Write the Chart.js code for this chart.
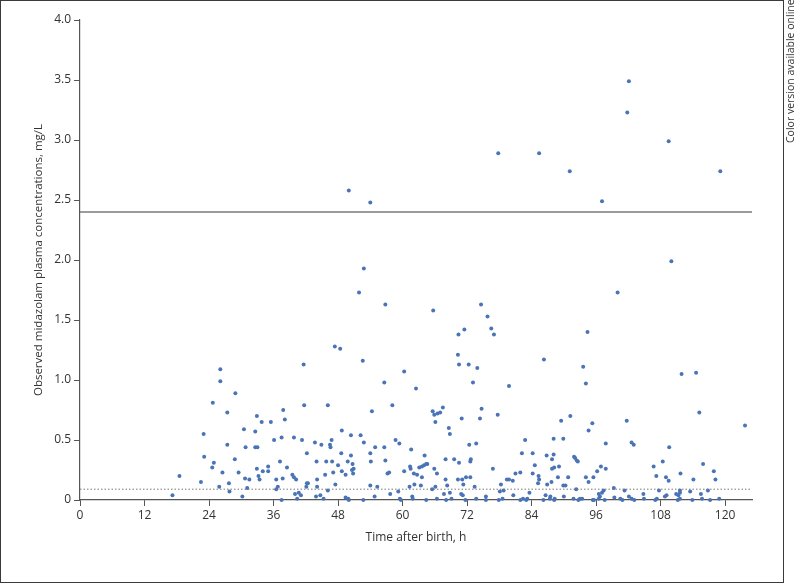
<!DOCTYPE html>
<html>
<head>
<meta charset="utf-8">
<script src="https://cdn.jsdelivr.net/npm/chart.js@4"></script>
<style>
  html, body { margin: 0; padding: 0; background: #fff; }
  #wrap { position: relative; width: 796px; height: 583px; overflow: hidden; }
  #frame { position: absolute; left: 0; top: 0; width: 784px; height: 583px; box-sizing: border-box; border: 1.5px solid #3a3a3a; pointer-events: none; }
  #note { position: absolute; left: 784px; top: 143px; width: 139px; height: 12px; transform-origin: 0 0; transform: rotate(-90deg);
          text-align: right; font: 10.5px "Open Sans", sans-serif; line-height: 12px; color: #333; white-space: nowrap; }
</style>
</head>
<body>
<div id="wrap">
  <canvas id="chart" width="796" height="583"></canvas>
  <div id="frame"></div>
  <div id="note">Color version available online</div>
</div>
<script>
// observed samples: time after birth (h) and midazolam concentration (mg/L), same order
const timeHours = [
  50.0, 54.0, 52.8, 51.9, 56.8, 65.7, 70.4, 102.1, 101.8, 109.5,
  77.8, 85.4, 91.1, 119.1, 97.1, 110.0, 100.0, 74.6, 75.8, 71.5,
  76.5, 77.0, 94.4,
  47.4, 48.4, 26.1, 26.1, 41.6, 28.9, 24.7, 41.7, 46.1, 27.4,
  32.9, 33.8, 35.5, 37.8, 38.1, 23.0, 30.5, 32.6, 36.1, 37.5,
  39.8, 41.3, 43.7, 44.9, 46.5, 46.8, 46.6, 48.7, 50.4, 48.6,
  27.4, 30.8, 32.6, 33.0, 23.1, 28.8, 42.2, 37.2, 44.0, 45.8,
  46.9, 49.8, 24.6, 24.9, 32.9, 35.0, 38.5, 48.0, 50.7, 18.5,
  26.5, 29.5, 33.2, 34.0, 35.0, 30.7, 31.5, 33.4, 36.5, 37.7,
  39.5, 39.8, 40.2, 42.2, 42.4, 45.6, 47.1, 48.7, 49.4, 50.9,
  50.8, 44.1, 27.7, 22.5, 25.9, 27.8, 31.1, 36.5, 36.8, 42.1,
  44.1, 47.5, 46.1, 17.2, 30.2, 40.0, 40.7, 41.1, 40.4, 43.9,
  44.7, 45.3, 37.5, 49.4, 50.0, 50.4, 50.6,
  70.3, 70.5, 72.3, 73.9, 73.1, 52.6, 60.3, 56.6, 62.5, 79.8,
  54.3, 58.1, 65.6, 65.9, 66.5, 67.0, 67.5, 66.1, 74.7, 71.0,
  74.4, 77.7, 68.6, 68.8, 52.2, 52.8, 58.7, 59.4, 54.9, 56.6,
  54.0, 61.6, 64.1, 72.4, 73.7, 82.8, 82.2, 84.2, 54.1, 56.8,
  68.0, 69.6, 70.5, 72.7, 72.6, 61.4, 61.5, 63.1, 63.6, 64.0,
  64.4, 64.6, 57.2, 57.5, 60.3, 62.1, 62.7, 63.6, 66.4, 65.9,
  76.8, 81.0, 81.9, 84.6, 84.2, 85.3, 85.4, 85.2, 68.0, 70.3,
  71.1, 71.8, 72.6, 68.3, 71.3, 73.4, 78.3, 79.4, 79.8, 80.5,
  54.0, 55.3, 61.3, 62.2, 63.4, 59.2, 57.7, 54.8, 61.8, 65.5,
  66.1, 67.7, 68.8, 70.9, 71.2, 75.5, 78.1, 78.8, 80.6, 83.6,
  49.9, 52.7, 59.5, 59.7, 61.9, 64.4, 66.4, 68.1, 69.1, 71.7,
  73.7, 75.5, 77.9, 78.6, 81.9, 82.4, 83.0, 83.2,
  86.3, 93.6, 94.1, 111.9, 114.6, 115.2, 89.5, 91.2, 95.3, 94.6,
  101.7, 88.1, 89.9, 97.8, 102.6, 103.0, 109.6, 86.8, 88.1, 87.8,
  91.9, 92.1, 92.4, 92.6, 88.2, 87.8, 89.1, 96.9, 96.2, 97.8,
  106.7, 108.4, 115.9, 117.9, 107.2, 109.0, 109.5, 111.7, 114.1, 118.2,
  88.9, 90.8, 94.1, 95.5, 94.6, 86.9, 87.7, 89.9, 90.3, 92.3,
  97.4, 97.1, 99.3, 96.5, 96.7, 101.3, 102.1, 104.8, 107.7, 108.8,
  109.1, 110.9, 111.3, 111.6, 111.6, 115.5, 116.8, 86.6, 87.5, 88.3,
  90.0, 93.4, 99.4, 113.5, 123.7,
  86.2, 87.4, 88.2, 91.8, 92.7, 93.0, 95.4, 95.6, 96.5, 97.6,
  100.5, 100.9, 102.6, 103.1, 104.9, 107.0, 107.3, 111.2, 111.6, 113.9,
  115.7, 117.2, 118.9
];
const concentration = [
  2.58, 2.48, 1.93, 1.73, 1.63, 1.58, 1.38, 3.49, 3.23, 2.99,
  2.89, 2.89, 2.74, 2.74, 2.49, 1.99, 1.73, 1.63, 1.53, 1.42,
  1.43, 1.38, 1.40,
  1.28, 1.26, 1.09, 0.99, 1.13, 0.89, 0.81, 0.79, 0.79, 0.73,
  0.70, 0.65, 0.65, 0.75, 0.67, 0.55, 0.59, 0.57, 0.50, 0.52,
  0.52, 0.50, 0.48, 0.46, 0.46, 0.50, 0.44, 0.58, 0.54, 0.39,
  0.46, 0.44, 0.44, 0.44, 0.36, 0.34, 0.39, 0.32, 0.32, 0.32,
  0.32, 0.32, 0.27, 0.31, 0.26, 0.28, 0.27, 0.29, 0.30, 0.20,
  0.23, 0.23, 0.20, 0.24, 0.24, 0.18, 0.17, 0.17, 0.17, 0.18,
  0.21, 0.19, 0.17, 0.14, 0.14, 0.21, 0.23, 0.24, 0.21, 0.26,
  0.22, 0.17, 0.14, 0.15, 0.11, 0.07, 0.10, 0.09, 0.11, 0.11,
  0.11, 0.13, 0.08, 0.04, 0.03, 0.05, 0.06, 0.04, 0.01, 0.03,
  0.04, 0.01, 0.00, 0.02, 0.00, 0.37, 0.25,
  1.21, 1.13, 1.13, 1.10, 0.98, 1.16, 1.07, 0.98, 0.93, 0.95,
  0.74, 0.79, 0.74, 0.71, 0.72, 0.73, 0.77, 0.65, 0.76, 0.68,
  0.68, 0.71, 0.60, 0.55, 0.54, 0.48, 0.50, 0.47, 0.44, 0.44,
  0.39, 0.42, 0.37, 0.46, 0.47, 0.50, 0.39, 0.39, 0.32, 0.33,
  0.34, 0.34, 0.31, 0.34, 0.32, 0.28, 0.26, 0.27, 0.28, 0.29,
  0.30, 0.30, 0.22, 0.23, 0.24, 0.22, 0.21, 0.19, 0.22, 0.26,
  0.26, 0.22, 0.23, 0.29, 0.22, 0.20, 0.17, 0.14, 0.17, 0.17,
  0.17, 0.19, 0.19, 0.12, 0.13, 0.11, 0.13, 0.17, 0.17, 0.16,
  0.12, 0.11, 0.11, 0.13, 0.12, 0.07, 0.05, 0.03, 0.03, 0.09,
  0.11, 0.05, 0.06, 0.05, 0.04, 0.03, 0.07, 0.08, 0.04, 0.06,
  0.01, 0.00, 0.01, 0.00, 0.01, 0.00, 0.01, 0.00, 0.01, 0.00,
  0.01, 0.00, 0.00, 0.01, 0.00, 0.01, 0.00, 0.01,
  1.17, 1.11, 0.97, 1.05, 1.06, 0.73, 0.66, 0.70, 0.64, 0.58,
  0.66, 0.51, 0.51, 0.47, 0.48, 0.46, 0.44, 0.37, 0.38, 0.34,
  0.36, 0.35, 0.33, 0.32, 0.27, 0.26, 0.28, 0.28, 0.24, 0.26,
  0.28, 0.32, 0.30, 0.24, 0.20, 0.19, 0.16, 0.22, 0.17, 0.17,
  0.19, 0.19, 0.19, 0.19, 0.15, 0.13, 0.15, 0.12, 0.12, 0.09,
  0.08, 0.06, 0.10, 0.05, 0.03, 0.08, 0.03, 0.05, 0.08, 0.03,
  0.04, 0.05, 0.04, 0.06, 0.08, 0.05, 0.08, 0.04, 0.03, 0.01,
  0.03, 0.01, 0.02, 0.07, 0.62,
  0.00, 0.01, 0.00, 0.01, 0.00, 0.01, 0.00, 0.00, 0.01, 0.00,
  0.01, 0.00, 0.01, 0.00, 0.01, 0.00, 0.01, 0.00, 0.01, 0.00,
  0.01, 0.00, 0.01
];

// reference levels drawn across the whole time range
const upperLevel = 2.4;
const lowerLevel = 0.09;
const timeRange = [0, 125];

const font = '"Open Sans", sans-serif';
const axisColor = '#555';

const points = timeHours.map((t, i) => ({ x: t, y: concentration[i] }));
const levelLine = (v) => timeRange.map(t => ({ x: t, y: v }));

new Chart(document.getElementById('chart'), {
  type: 'scatter',
  data: {
    datasets: [
      {
        type: 'line', data: levelLine(upperLevel),
        borderColor: '#7a7a7a', borderWidth: 1.5, pointRadius: 0
      },
      {
        type: 'line', data: levelLine(lowerLevel),
        borderColor: '#777', borderWidth: 1, borderDash: [1.5, 2], pointRadius: 0
      },
      {
        data: points,
        backgroundColor: '#4a74b6', borderColor: '#4a74b6', borderWidth: 0,
        pointRadius: 2, clip: false
      }
    ]
  },
  options: {
    responsive: false,
    animation: false,
    layout: { padding: { top: 20, right: 44, left: 0, bottom: 0 } },
    plugins: { legend: { display: false }, tooltip: { enabled: false } },
    scales: {
      x: {
        type: 'linear', min: timeRange[0], max: timeRange[1],
        afterFit: (s) => { s.height = 83; },
        border: { color: axisColor, width: 1.2 },
        grid: { drawOnChartArea: false, tickLength: 6, color: axisColor },
        ticks: { stepSize: 12, includeBounds: false, padding: 2, color: '#333', font: { family: font, size: 12 } },
        title: { display: true, text: 'Time after birth, h', color: '#333',
                 font: { family: font, size: 12 }, padding: { top: 0, bottom: 38 } }
      },
      y: {
        min: 0, max: 4,
        afterFit: (s) => { s.width = 80; },
        border: { color: axisColor, width: 1.2 },
        grid: { drawOnChartArea: false, tickLength: 6, color: axisColor },
        ticks: { stepSize: 0.5, padding: 3, color: '#333', font: { family: font, size: 12 },
                 callback: (v) => v === 0 ? '0' : v.toFixed(1) },
        title: { display: true, text: 'Observed midazolam plasma concentrations, mg/L', color: '#333',
                 font: { family: font, size: 11.5 }, padding: { top: 32, bottom: 4 } }
      }
    }
  }
});
</script>
</body>
</html>
